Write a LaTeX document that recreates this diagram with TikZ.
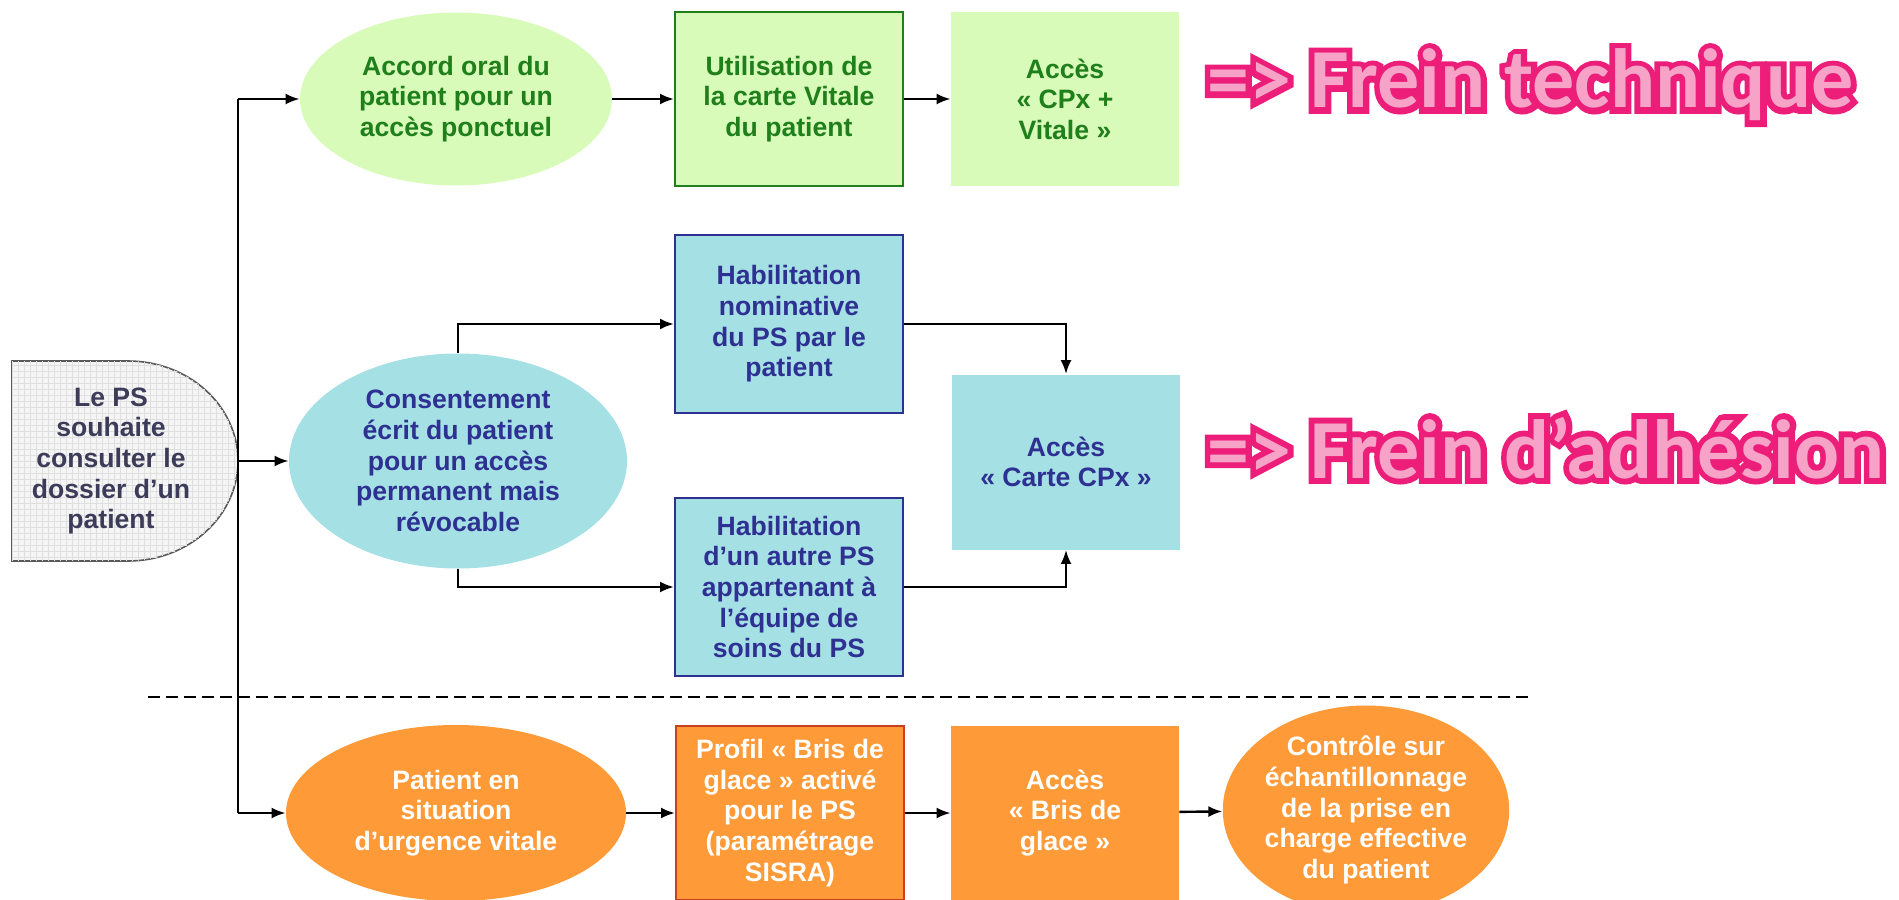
\documentclass[tikz,border=0pt]{standalone}
\usepackage{fontspec}
\usepackage{tikz}
\usetikzlibrary{positioning}
\usetikzlibrary{shapes.geometric}
\usetikzlibrary{arrows.meta}
\usetikzlibrary{patterns}
\newfontfamily\arial{Liberation Sans}
\newfontfamily\carlito{Carlito}
\newfontfamily\carlitobord{Carlito}[BoldFeatures={FakeBold=14}]
\definecolor{vertclair}{HTML}{D9FBBA}
\definecolor{vertfonce}{HTML}{1F7F1A}
\definecolor{bleuclair}{HTML}{A5E0E5}
\definecolor{bleufonce}{HTML}{2E3192}
\definecolor{orangevif}{HTML}{FF9A38}
\definecolor{rougebord}{HTML}{C8401F}
\definecolor{textegris}{HTML}{3C3C5A}
\definecolor{rosefonce}{HTML}{EC1E79}
\definecolor{roseclair}{HTML}{F7A3C8}

\begin{document}
\begin{tikzpicture}[x=0.5pt, y=-0.5pt,
    texte/.style = {font=\arial\bfseries\fontsize{13.3}{15.3}\selectfont, align=center, inner sep=0pt},
    boite/.style = {texte, rectangle, minimum width=114pt, minimum height=87pt},
    bulle/.style = {texte, ellipse},
    rangvert/.style = {fill=vertclair, text=vertfonce},
    rangbleu/.style = {fill=bleuclair, text=bleufonce},
    rangorange/.style = {fill=orangevif, text=white},
    fleche/.style = {-{Latex[length=7pt,width=5.5pt]}, line width=1.2pt},
    frein/.style = {anchor=base west, inner sep=0pt}]
    \useasboundingbox (0,0) rectangle (1899,899);

    \draw[line width=0.8pt, draw=gray!70!black, fill=gray!8, postaction={pattern=grid, pattern color=gray!25}]
      (12,361) -- (128,361) arc[start angle=-90, end angle=90, x radius=110, y radius=100] -- (12,561) -- cycle;
    \node[texte, text=textegris](debut) at (111,461){Le PS\\souhaite\\consulter le\\dossier d’un\\patient};
    \coordinate (bout) at (238,461);

    \node[bulle, rangvert, minimum width=156pt, minimum height=86.5pt](accord) at (456,99){Accord oral du\\patient pour un\\accès ponctuel};
    \node[boite, rangvert, draw=vertfonce, line width=1pt, minimum height=86.5pt](carte) at (789,99){Utilisation de\\la carte Vitale\\du patient};
    \node[boite, rangvert, minimum height=86.5pt](vitale) at (1065,99){Accès\\« CPx +\\Vitale »};

    \node[bulle, rangbleu, minimum width=169pt, minimum height=107.5pt](consent) at (458,461){Consentement\\écrit du patient\\pour un accès\\permanent mais\\révocable};
    \node[boite, rangbleu, draw=bleufonce, line width=1pt, minimum height=89pt](habnom) at (789,324){Habilitation\\nominative\\du PS par le\\patient};
    \node[boite, rangbleu, draw=bleufonce, line width=1pt, minimum height=89pt](habautre) at (789,587){Habilitation\\d’un autre PS\\appartenant à\\l’équipe de\\soins du PS};
    \node[boite, rangbleu, minimum height=87.5pt](cpx) at (1066,462){Accès\\« Carte CPx »};

    \node[bulle, rangorange, minimum width=170pt, minimum height=88pt](patient) at (456,813){Patient en\\situation\\d’urgence vitale};
    \node[boite, rangorange, draw=rougebord, line width=1pt](profil) at (790,813){Profil « Bris de\\glace » activé\\pour le PS\\(paramétrage\\SISRA)};
    \node[boite, rangorange](bris) at (1065,813){Accès\\« Bris de\\glace »};
    \node[bulle, rangorange, minimum width=137.5pt, minimum height=94pt](controle) at (1366,810){Contrôle sur\\échantillonnage\\de la prise en\\charge effective\\du patient};

    \draw[line width=1.2pt] (bout |- accord) -- (bout |- patient);
    \draw[fleche] (bout |- accord) -- (accord);
    \draw[fleche] (bout) -- (consent);
    \draw[fleche] (bout |- patient) -- (patient);
    \draw[fleche] (accord) -- (carte);
    \draw[fleche] (carte) -- (vitale);
    \draw[fleche] (consent.north) |- (habnom);
    \draw[fleche] (consent.south) |- (habautre);
    \draw[fleche] (habnom) -| (cpx);
    \draw[fleche] (habautre) -| (cpx);
    \draw[fleche] (patient) -- (profil);
    \draw[fleche] (profil) -- (bris);
    \draw[fleche] (bris) -- (controle);

    \coordinate (sepg) at (148,697);
    \coordinate (sepd) at (1528,697);
    \draw[line width=1pt, dash pattern=on 6pt off 3pt] (sepg) -- (sepd);

    \node[frein, text=rosefonce, font=\carlitobord\bfseries\fontsize{42}{50}\selectfont](techbord) at (1207,108){=> Frein technique};
    \node[frein, text=roseclair, font=\carlito\bfseries\fontsize{42}{50}\selectfont](tech) at (1207,108){=> Frein technique};
    \node[frein, text=rosefonce, font=\carlitobord\bfseries\fontsize{42}{50}\selectfont](adhbord) at (1207,478){=> Frein d’adhésion};
    \node[frein, text=roseclair, font=\carlito\bfseries\fontsize{42}{50}\selectfont](adh) at (1207,478){=> Frein d’adhésion};
  \end{tikzpicture}
\end{document}
